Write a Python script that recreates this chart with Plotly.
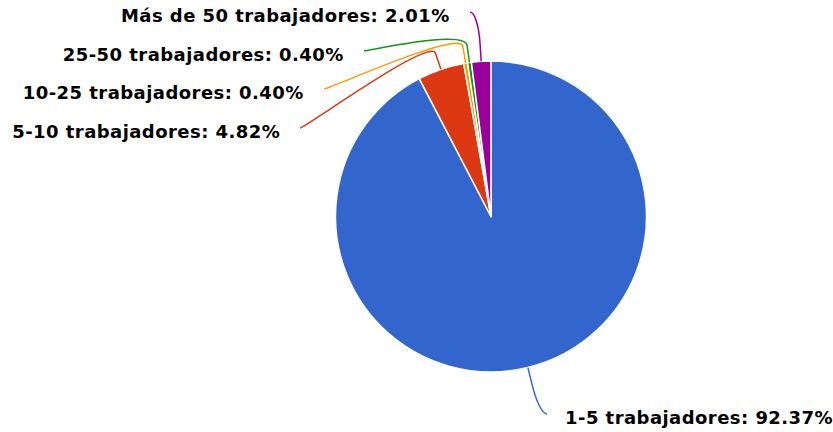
import math
import plotly.graph_objects as go

# ---- data ----
categories = ["1-5 trabajadores", "5-10 trabajadores", "10-25 trabajadores",
              "25-50 trabajadores", "Más de 50 trabajadores"]
values = [92.37, 4.82, 0.40, 0.40, 2.01]
colors = ["#3366CC", "#DC3912", "#FF9900", "#109618", "#990099"]

# ---- layout constants (pixels) ----
W, H = 833, 432
cx, cy, R = 491, 216.5, 155.5
break_d = 17
# connector end point at the label, and label side
label_anchor = [(547, 414, "left"), (300, 128, "right"), (324, 89, "right"),
                (364, 51, "right"), (470, 12, "right")]
text_gap_right = 19
text_gap_left = 17
text_dy = 3.5


def px(x):
    return x / W


def py(y):
    return 1 - y / H


fig = go.Figure()
fig.add_trace(go.Pie(
    labels=categories, values=values, sort=False, direction="clockwise",
    rotation=0, textinfo="none", showlegend=False,
    marker=dict(colors=colors, line=dict(color="white", width=1.5)),
    domain=dict(x=[px(cx - R), px(cx + R)], y=[py(cy + R), py(cy - R)]),
))

total = sum(values)
cum = 0
shapes, annotations = [], []
for cat, v, col, (lx, ly, side) in zip(categories, values, colors, label_anchor):
    theta = math.radians(360 * (cum + v / 2) / total)
    cum += v
    ux, uy = math.sin(theta), -math.cos(theta)
    tx, ty = cx + R * ux, cy + R * uy
    bx, by = tx + break_d * ux, ty + break_d * uy
    c2x, c2y = 2 * bx - tx, 2 * by - ty
    c1x = lx + (-5 if side == "left" else 5)
    path = (f"M {px(lx)} {py(ly)} C {px(c1x)} {py(ly)} {px(c2x)} {py(c2y)} "
            f"{px(bx)} {py(by)} L {px(tx)} {py(ty)}")
    shapes.append(dict(type="path", path=path, xref="paper", yref="paper",
                       line=dict(color=col, width=1.5)))
    if side == "left":
        ax, anchor = lx + text_gap_left, "left"
    else:
        ax, anchor = lx - text_gap_right, "right"
    annotations.append(dict(
        text=f"<b>{cat}: {v:.2f}%</b>", x=px(ax), y=py(ly + text_dy),
        xref="paper", yref="paper", xanchor=anchor, yanchor="middle",
        align=anchor, showarrow=False, borderpad=0,
        font=dict(family="DejaVu Sans", size=18, color="black"),
    ))

fig.update_layout(
    width=W, height=H, margin=dict(l=0, r=0, t=0, b=0),
    paper_bgcolor="white", plot_bgcolor="white",
    shapes=shapes, annotations=annotations,
)
post = """
document.body.style.margin = '0px';
document.querySelectorAll('.annotation-text').forEach(function (e) {
    e.style.letterSpacing = '0.45px';
});
"""
fig.write_html("out.html", post_script=post, config={"displayModeBar": False})
